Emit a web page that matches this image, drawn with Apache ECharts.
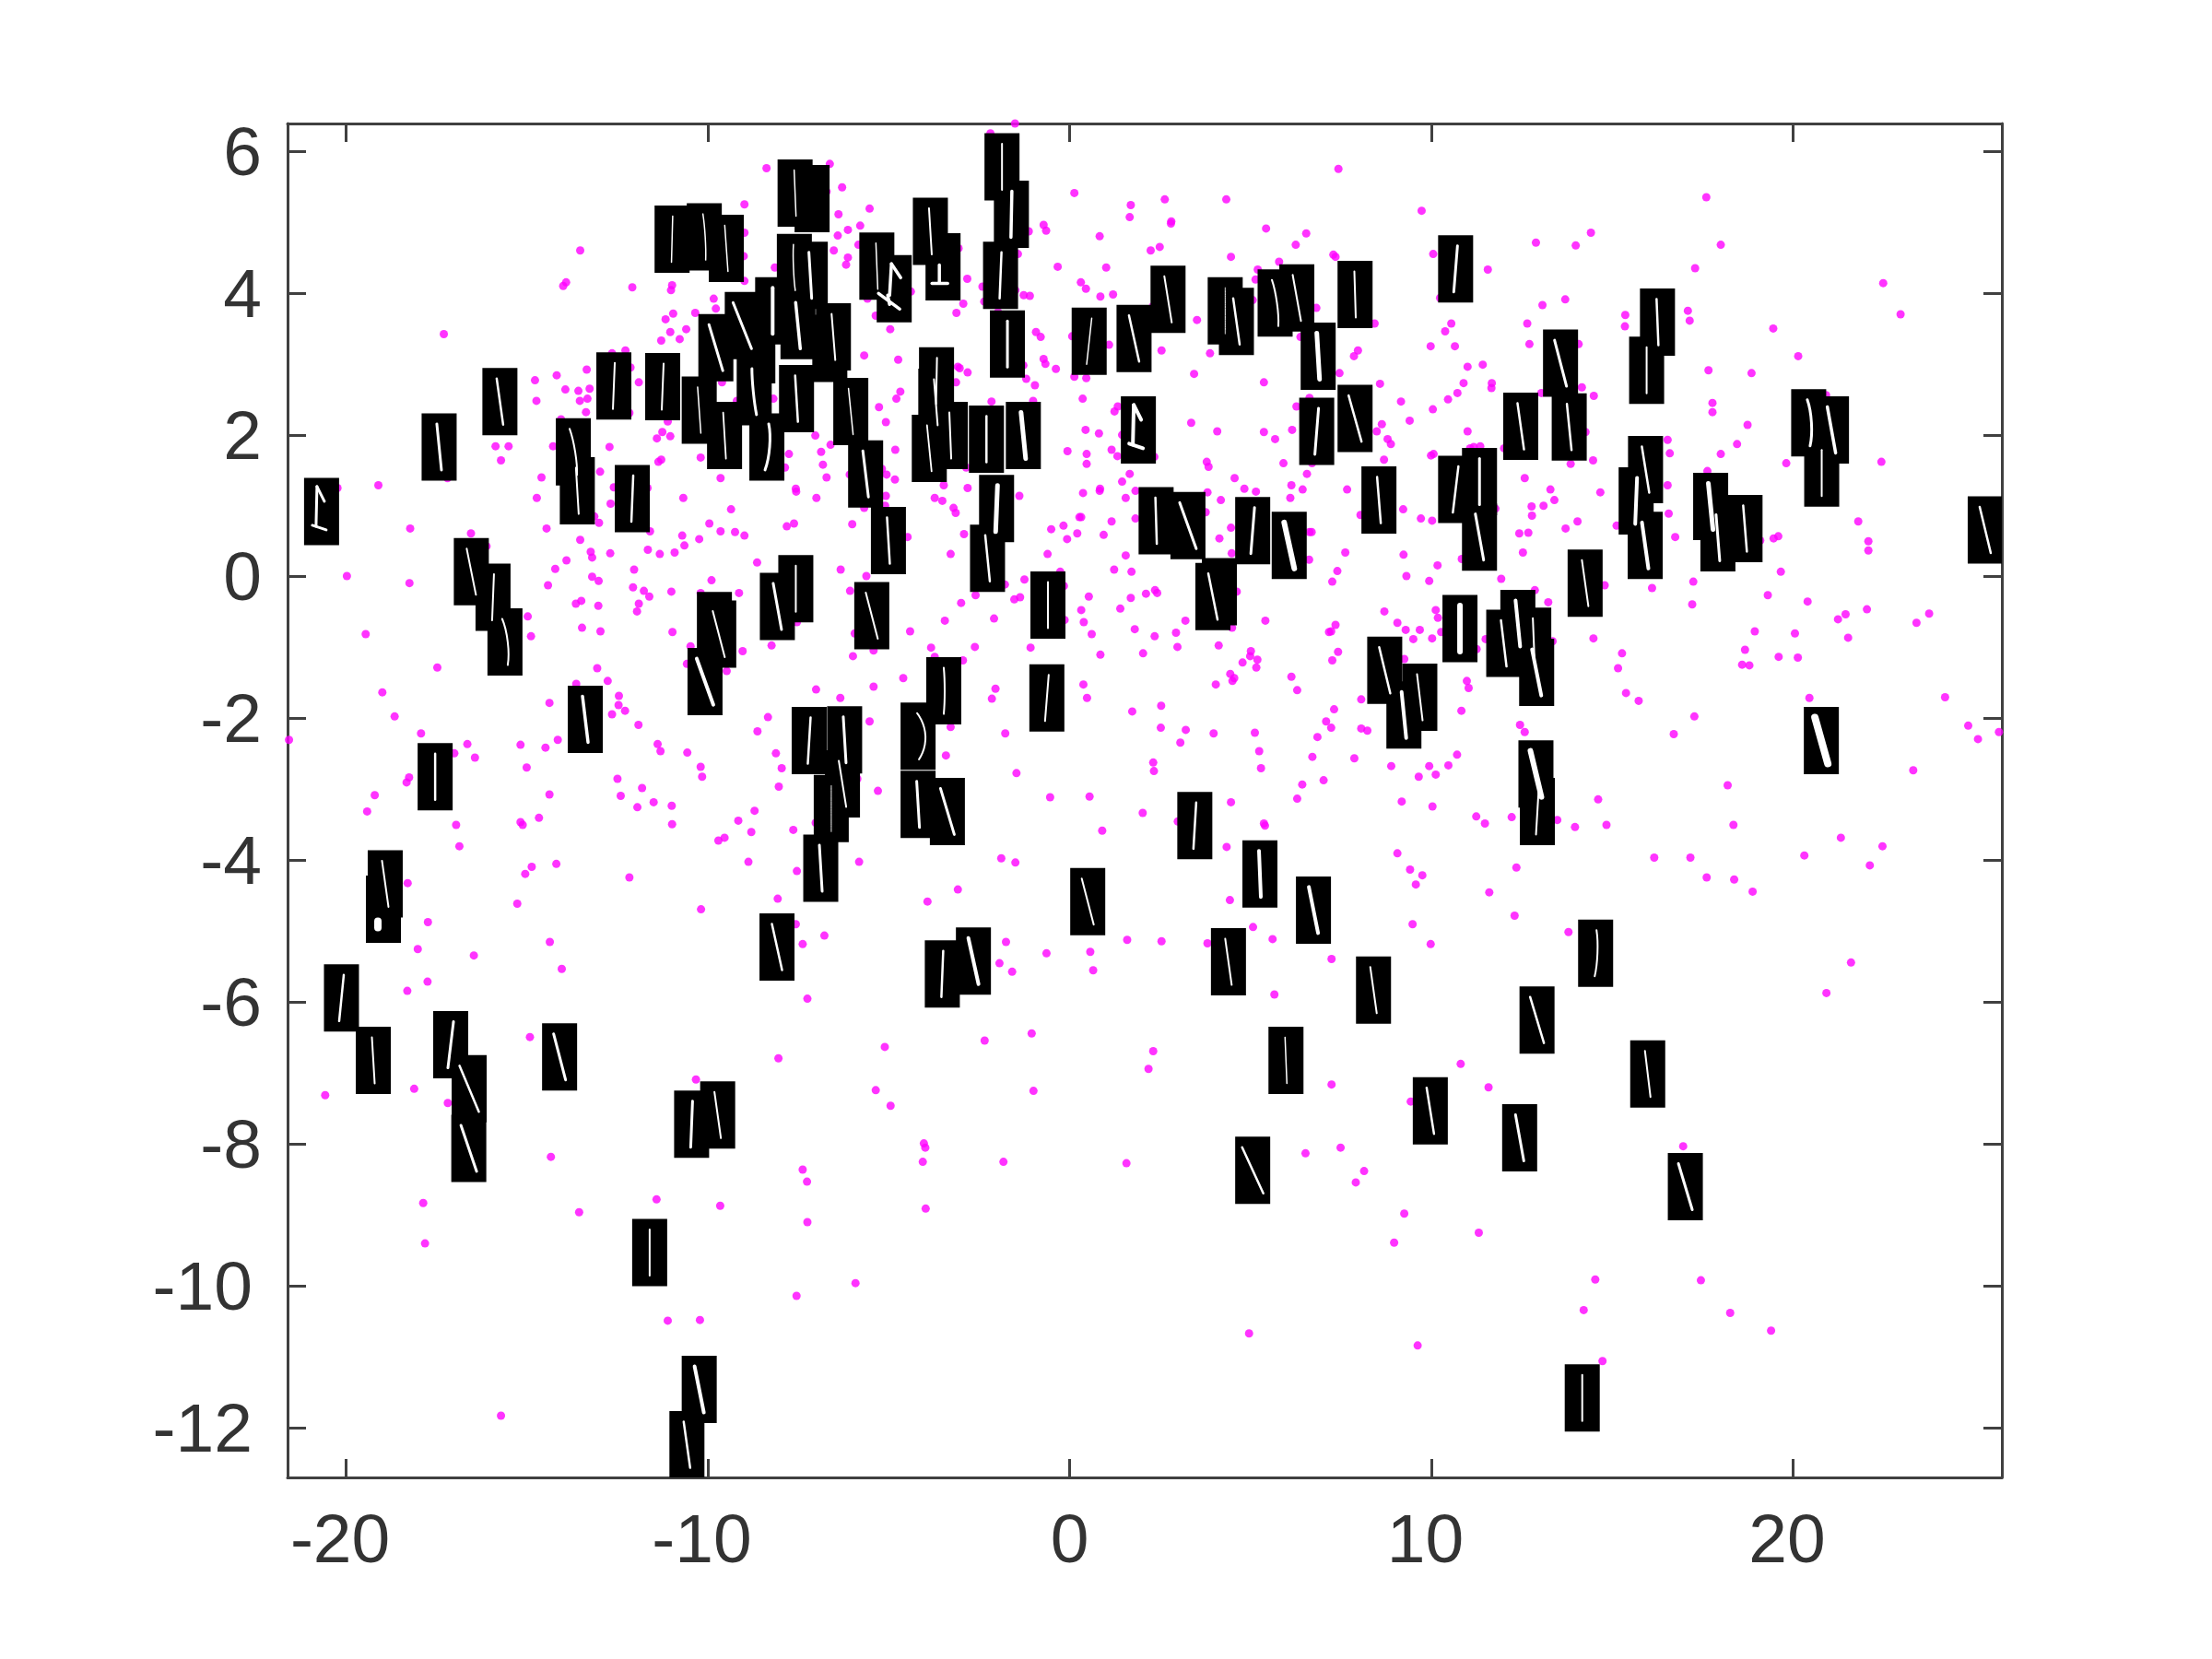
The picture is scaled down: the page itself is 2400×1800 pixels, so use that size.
<!DOCTYPE html>
<html><head><meta charset="utf-8">
<script src="https://cdn.jsdelivr.net/npm/echarts@6/dist/echarts.min.js"></script>
<style>html,body{margin:0;padding:0;background:#fff}#c{width:2400px;height:1800px}</style>
</head><body><div id="c"></div>
<script>
const xTicks = [-20,-10,0,10,20];
const yTicks = [-12,-10,-8,-6,-4,-2,0,2,4,6];
const xRange = [-21.62,25.77];
const yRange = [-12.70,6.39];

const dotsFarUpperLeft = [[-13.53,4.60],[-13.92,4.15],[-14.00,4.10],[-12.09,4.08],[-10.99,4.11],[-11.02,4.04],[-9.84,3.92],[-9.78,3.78],[-10.35,3.72],[-10.96,3.71],[-11.17,3.63],[-17.30,3.42],[-10.60,3.49],[-11.04,3.45],[-10.78,3.35],[-11.29,3.33],[-12.28,3.19],[-12.65,3.15],[-13.35,2.92],[-14.18,2.84],[-14.78,2.77],[-12.14,2.95],[-11.91,2.74],[-13.94,2.64],[-13.58,2.62],[-13.27,2.65],[-14.74,2.48],[-13.54,2.48],[-13.33,2.51],[-13.37,2.32],[-12.17,2.31],[-14.06,2.22],[-11.11,2.19],[-11.26,2.04],[-11.41,1.95],[-11.04,1.98],[-15.87,1.84],[-15.51,1.84],[-14.28,1.84],[-12.72,1.83]];
const dotsUpperLeft = [[-1.51,6.39],[-2.19,6.25],[-8.38,5.76],[-6.63,5.82],[-6.29,5.49],[-6.72,5.43],[0.13,5.41],[-5.53,5.19],[-6.39,5.11],[-8.99,5.25],[-5.79,4.95],[-6.13,4.89],[-6.41,4.81],[-0.72,4.96],[-0.65,4.88],[-1.13,4.87],[0.83,4.80],[-8.99,4.85],[-5.84,4.68],[-6.52,4.60],[-6.13,4.50],[-6.18,4.40],[-9.01,4.52],[-8.15,4.36],[-3.07,4.63],[-1.43,4.55],[-0.33,4.37],[1.01,4.36],[-8.99,4.17],[-2.83,4.20],[-2.41,4.09],[-1.50,4.04],[-1.27,3.97],[-1.10,3.96],[0.31,4.15],[0.45,4.06],[0.85,3.95],[-4.39,4.02],[-2.94,3.85],[-3.13,3.72],[-2.36,3.88],[-5.59,3.92],[-5.36,3.68],[-4.96,3.49],[-1.98,3.73],[-0.93,3.45],[-0.80,3.38],[0.07,3.39],[-5.68,3.12],[-4.74,3.06],[-3.09,2.96],[-3.04,2.94],[-2.82,2.88],[-3.14,2.74],[-0.72,3.07],[-0.67,3.00],[-0.38,2.93],[-1.28,2.98],[-1.20,2.79],[-0.96,2.70],[0.13,2.82],[0.46,2.80],[0.36,2.51],[-1.01,2.48],[-2.16,2.47],[-4.68,2.61],[-4.79,2.51],[-5.27,2.39],[-5.08,2.18],[-9.61,2.74],[-8.19,2.51],[-9.20,2.48],[-7.03,1.99],[-6.61,1.86],[-6.87,1.76],[-7.76,1.73],[0.44,2.07],[0.81,2.02],[-0.06,1.77],[0.47,1.73],[0.47,1.59],[-4.82,1.79],[-10.20,1.68],[-11.29,1.65],[-11.37,1.62],[-9.65,1.39],[-7.87,1.54],[-6.82,1.58],[-6.72,1.40],[-5.19,1.52],[-5.06,1.44],[-4.83,1.37],[-6.08,1.44],[-3.48,1.29],[-2.82,1.25],[-2.86,1.54],[-7.57,1.24],[0.84,1.24]];
const dotsMiddleLeft = [[-15.72,1.64],[-14.60,1.40],[-12.98,1.48],[-17.20,1.39],[-20.24,1.25],[-19.11,1.29],[-14.73,1.11],[-12.60,1.26],[-11.67,1.25],[-10.68,1.11],[-12.69,1.03],[-9.96,0.75],[-13.14,0.85],[-13.01,0.76],[-18.23,0.68],[-14.46,0.68],[-11.60,0.64],[-16.55,0.61],[-10.71,0.58],[-10.24,0.53],[-13.53,0.52],[-16.12,0.43],[-10.65,0.44],[-11.66,0.38],[-11.33,0.32],[-10.92,0.34],[-12.70,0.33],[-13.24,0.35],[-13.20,0.27],[-13.91,0.23],[-14.22,0.11],[-12.04,0.10],[-19.98,0.01],[-18.25,-0.09],[-13.20,0.00],[-13.02,-0.06],[-14.42,-0.12],[-9.90,-0.05],[-12.07,-0.15],[-11.77,-0.20],[-11.62,-0.28],[-11.01,-0.21],[-10.20,-0.23],[-13.50,-0.34],[-13.65,-0.38],[-13.03,-0.41],[-11.91,-0.38],[-11.96,-0.49],[-14.98,-0.56],[-19.46,-0.81],[-14.89,-0.84],[-13.48,-0.72],[-12.97,-0.77],[-10.98,-0.78],[-10.48,-0.98],[-10.58,-1.23],[-17.48,-1.28],[-13.06,-1.29],[-12.77,-1.47],[-13.64,-1.51],[-19.00,-1.63],[-14.38,-1.78],[-12.46,-1.68],[-12.47,-1.81],[-12.29,-1.89],[-12.65,-1.94],[-18.66,-1.97],[-11.92,-2.09],[-17.93,-2.21],[-21.58,-2.30],[-16.65,-2.36],[-15.18,-2.37],[-14.49,-2.41],[-14.15,-2.30],[-17.01,-2.49],[-16.44,-2.55],[-11.39,-2.36],[-11.31,-2.46],[-10.57,-2.48],[-10.20,-2.68],[-15.01,-2.69],[-18.26,-2.83],[-18.33,-2.90],[-10.16,-2.82],[-12.50,-2.85],[-19.21,-3.08],[-14.38,-3.07],[-11.82,-2.98],[-12.41,-3.09],[-11.50,-3.18],[-11.95,-3.25],[-11.00,-3.23],[-19.42,-3.31]];
const dotsMiddleCentre = [[1.16,1.79],[1.32,1.70],[-7.56,1.20],[-7.00,1.11],[-9.36,0.95],[-9.65,0.64],[-9.25,0.63],[-8.99,0.58],[-7.82,0.71],[-7.62,0.75],[-6.01,0.74],[-5.68,0.97],[-5.10,1.00],[-5.08,1.14],[-3.73,1.11],[-3.52,1.07],[-3.21,0.97],[-3.15,0.90],[-1.39,1.14],[0.37,1.18],[0.83,1.21],[1.66,1.45],[1.45,1.34],[1.55,1.11],[1.82,1.21],[1.82,0.82],[0.27,0.84],[0.32,0.84],[1.16,0.78],[-0.51,0.67],[-0.17,0.72],[0.21,0.61],[0.94,0.59],[-0.07,0.53],[-4.48,0.56],[-2.92,0.60],[-3.29,0.32],[-0.61,0.32],[1.55,0.30],[-8.64,0.20],[-6.33,0.10],[-5.62,0.01],[1.23,0.10],[1.71,0.07],[-0.26,0.07],[-9.14,-0.23],[-6.07,-0.20],[-1.79,-0.11],[-1.25,-0.04],[-2.60,-0.26],[-1.53,-0.32],[-1.37,-0.29],[-3.00,-0.37],[-0.16,-0.13],[0.53,-0.28],[1.69,-0.30],[0.32,-0.47],[1.40,-0.45],[-3.45,-0.62],[-2.09,-0.59],[-0.14,-0.61],[0.39,-0.64],[-4.41,-0.77],[0.61,-0.81],[1.80,-0.74],[-7.54,-0.64],[-5.94,-0.80],[-8.24,-0.97],[-9.04,-1.05],[-5.42,-1.04],[-5.99,-1.12],[-3.83,-1.00],[-2.62,-0.99],[-1.08,-1.00],[-3.73,-1.13],[-2.95,-1.18],[0.85,-1.10],[-9.48,-1.33],[-4.60,-1.43],[-5.42,-1.55],[-7.01,-1.59],[-6.34,-1.71],[-2.05,-1.58],[-2.15,-1.72],[0.38,-1.52],[0.48,-1.71],[1.73,-1.90],[-8.34,-1.98],[-8.63,-2.18],[-5.53,-2.04],[-3.29,-2.12],[-1.78,-2.21],[-8.12,-2.49],[-3.42,-2.52],[-7.96,-2.70],[-1.47,-2.77],[-8.04,-2.96],[-5.87,-2.85],[-5.30,-3.02],[-0.54,-3.11],[0.55,-3.10],[-8.71,-3.30]];
const dotsUpperCentre = [[7.43,5.75],[1.69,5.24],[2.63,5.32],[4.33,5.32],[1.66,5.07],[2.81,5.01],[2.80,4.98],[9.73,5.16],[5.43,4.91],[6.54,4.84],[6.25,4.68],[2.24,4.60],[2.49,4.65],[4.46,4.51],[7.29,4.54],[7.35,4.51],[5.79,4.44],[5.20,4.33],[5.14,4.19],[10.05,4.55],[11.56,4.33],[1.20,3.98],[2.30,3.81],[5.06,3.90],[10.24,3.93],[6.82,3.79],[3.52,3.62],[8.43,3.57],[10.55,3.57],[10.38,3.46],[12.65,3.57],[1.09,3.27],[2.54,3.19],[3.88,3.15],[6.38,3.38],[7.97,3.19],[7.86,3.11],[9.98,3.25],[10.65,3.25],[12.71,3.28],[11.00,2.96],[11.42,2.99],[3.44,2.86],[7.46,2.87],[5.37,2.74],[8.58,2.72],[10.89,2.73],[11.67,2.73],[11.66,2.66],[10.72,2.59],[10.46,2.50],[1.33,2.40],[1.24,2.33],[6.63,2.52],[6.27,2.40],[9.16,2.47],[10.04,2.36],[3.36,2.17],[9.40,2.20],[1.45,2.00],[4.08,2.05],[5.37,2.04],[6.15,2.07],[5.68,1.94],[8.63,2.15],[8.49,2.05],[8.79,1.94],[8.88,1.87],[11.00,2.05],[2.34,1.69],[3.79,1.62],[3.84,1.55],[5.91,1.60],[8.69,1.65],[9.99,1.71],[10.06,1.73],[11.07,1.81],[11.17,1.83],[11.35,1.84],[12.01,1.81],[6.70,1.60],[4.56,1.39],[6.56,1.45],[6.13,1.29],[4.83,1.24],[5.15,1.20],[6.44,1.23],[7.67,1.23],[12.58,1.39],[3.81,1.19]];
const dotsMiddleRight = [[4.18,1.08],[6.10,1.11],[3.76,0.91],[8.04,0.87],[9.22,0.95],[9.71,0.82],[10.02,0.79],[11.77,0.96],[12.77,0.99],[13.10,1.00],[13.40,1.08],[12.78,0.86],[13.29,1.23],[4.46,0.69],[4.14,0.54],[4.48,0.33],[6.63,0.63],[6.69,0.63],[6.62,0.24],[7.62,0.34],[7.40,0.08],[7.26,-0.07],[9.23,0.31],[10.17,0.16],[9.31,0.01],[9.94,-0.06],[10.84,0.25],[12.43,0.61],[12.68,0.62],[12.53,0.34],[11.93,-0.03],[12.86,-0.19],[13.23,-0.36],[2.11,-0.24],[2.36,-0.19],[2.42,-0.23],[4.62,-0.21],[3.20,-0.62],[5.41,-0.62],[4.49,-0.72],[2.35,-0.84],[2.94,-0.79],[2.98,-0.99],[2.03,-1.08],[4.12,-0.97],[7.35,-0.68],[7.17,-0.78],[7.23,-0.77],[8.70,-0.49],[9.06,-0.65],[9.29,-0.75],[9.68,-0.75],[10.12,-0.47],[10.18,-0.58],[10.27,-0.78],[9.50,-0.88],[10.02,-0.87],[11.50,-0.88],[11.25,-1.02],[13.35,-0.91],[9.25,-1.16],[5.01,-1.05],[4.99,-1.12],[5.19,-1.17],[4.78,-1.21],[5.16,-1.28],[7.42,-1.06],[7.26,-1.18],[4.44,-1.37],[4.55,-1.43],[4.50,-1.47],[4.04,-1.52],[6.13,-1.41],[6.29,-1.60],[10.98,-1.47],[11.03,-1.57],[2.53,-1.82],[8.06,-1.73],[7.31,-1.87],[10.83,-1.89],[7.09,-2.04],[7.23,-2.13],[8.06,-2.14],[8.23,-2.17],[2.52,-2.13],[3.21,-2.16],[3.98,-2.21],[5.12,-2.20],[3.06,-2.34],[6.85,-2.26],[12.45,-2.09],[12.58,-2.19],[5.24,-2.46],[6.71,-2.54],[7.87,-2.56],[8.89,-2.67],[9.94,-2.67],[10.47,-2.66],[10.71,-2.51],[9.65,-2.82],[10.12,-2.79],[2.31,-2.62],[2.33,-2.74],[5.29,-2.70],[7.02,-2.87],[6.43,-2.93],[6.29,-3.13],[4.46,-3.18],[9.18,-3.17],[10.03,-3.24],[2.02,-3.33],[2.99,-3.45],[5.37,-3.48],[5.40,-3.51],[11.24,-3.38],[11.48,-3.48],[12.22,-3.39],[13.48,-3.43],[4.34,-3.81],[9.06,-3.90]];
const dotsUpperRight = [[17.60,5.35],[14.41,4.85],[12.89,4.71],[13.99,4.67],[18.00,4.68],[17.29,4.35],[22.49,4.14],[22.97,3.70],[13.07,3.83],[13.70,3.91],[15.36,3.69],[15.35,3.53],[17.09,3.75],[17.14,3.61],[19.45,3.50],[14.07,3.28],[20.14,3.11],[17.66,2.91],[18.85,2.87],[14.16,2.67],[14.49,2.55],[13.04,2.59],[17.77,2.45],[17.77,2.32],[18.74,2.14],[14.26,2.04],[16.53,1.93],[18.45,1.87],[16.59,1.74],[18.00,1.73],[14.47,1.64],[13.85,1.59],[19.81,1.60],[22.44,1.62],[17.63,1.49],[16.53,1.29],[14.67,1.19],[20.91,2.56]];
const dotsFarRight = [[14.04,0.78],[13.71,0.68],[15.12,0.72],[16.56,0.89],[16.74,0.56],[21.80,0.78],[22.08,0.50],[22.08,0.37],[19.46,0.54],[19.59,0.57],[19.09,0.51],[19.66,0.07],[14.79,-0.12],[16.10,-0.16],[17.24,-0.07],[17.21,-0.39],[19.30,-0.26],[20.40,-0.35],[22.04,-0.46],[21.45,-0.53],[21.24,-0.60],[23.41,-0.65],[23.76,-0.52],[18.94,-0.77],[20.05,-0.80],[21.52,-0.86],[14.48,-0.87],[15.27,-1.08],[18.67,-1.03],[15.16,-1.29],[18.59,-1.24],[18.79,-1.25],[19.60,-1.13],[20.13,-1.14],[15.38,-1.64],[15.73,-1.75],[20.45,-1.71],[24.20,-1.70],[17.27,-1.97],[16.70,-2.22],[24.84,-2.10],[25.11,-2.29],[25.69,-2.19],[23.32,-2.73],[18.19,-2.94],[14.61,-3.14],[13.97,-3.53],[14.84,-3.50],[18.35,-3.50],[21.32,-3.68],[22.47,-3.80],[20.31,-3.93],[17.16,-3.96],[16.16,-3.96]];
const dotsLowerLeft = [[-16.96,-3.50],[-16.87,-3.80],[-15.18,-3.46],[-15.12,-3.50],[-14.67,-3.40],[-10.99,-3.49],[-9.16,-3.44],[-9.71,-3.72],[-9.54,-3.68],[-8.80,-3.60],[-7.64,-3.57],[-7.02,-3.47],[-18.30,-4.32],[-14.87,-4.09],[-15.05,-4.19],[-14.19,-4.05],[-12.17,-4.24],[-8.88,-4.02],[-7.54,-4.15],[-5.82,-4.02],[-15.27,-4.61],[-10.19,-4.69],[-8.07,-4.54],[-17.74,-4.87],[-7.57,-4.90],[-6.78,-5.06],[-7.38,-5.18],[-14.37,-5.15],[-18.02,-5.25],[-16.47,-5.34],[-14.04,-5.53],[-17.75,-5.71],[-18.31,-5.84],[-7.25,-5.95],[-14.92,-6.49],[-8.05,-6.79],[-10.33,-7.09],[-18.12,-7.22],[-20.58,-7.31],[-17.19,-7.42],[-14.34,-8.18],[-7.38,-8.36],[-7.26,-8.53],[-17.87,-8.83],[-13.56,-8.96],[-11.42,-8.78],[-9.66,-8.87],[-7.25,-9.10],[-17.82,-9.40],[-7.55,-10.14],[-5.92,-9.96],[-11.11,-10.49],[-10.22,-10.48],[-15.72,-11.83]];
const dotsLowerCentre = [[0.90,-3.58],[-1.89,-3.97],[-1.50,-4.03],[-3.09,-4.41],[-3.93,-4.58],[4.43,-4.56],[9.41,-4.13],[9.75,-4.21],[9.57,-4.34],[9.48,-4.90],[9.98,-5.18],[-1.76,-5.15],[-1.94,-5.45],[-1.59,-5.57],[-0.64,-5.31],[0.57,-5.29],[0.65,-5.55],[1.59,-5.12],[2.54,-5.14],[3.81,-5.17],[5.07,-4.94],[5.61,-5.11],[5.66,-5.89],[7.24,-5.39],[-1.05,-6.44],[-2.35,-6.54],[-5.11,-6.63],[2.31,-6.69],[2.18,-6.94],[-5.36,-7.24],[-4.95,-7.46],[-1.00,-7.25],[7.24,-7.16],[9.43,-7.40],[-4.03,-7.99],[-3.99,-8.05],[-4.06,-8.25],[-1.83,-8.25],[1.57,-8.27],[-3.98,-8.91],[6.52,-8.13],[7.49,-8.05],[8.14,-8.38],[7.91,-8.54],[9.25,-8.98],[8.97,-9.39],[4.96,-10.67],[9.62,-10.84]];
const dotsLowerRight = [[12.35,-4.10],[11.60,-4.45],[12.30,-4.78],[13.79,-5.01],[17.61,-4.24],[18.37,-4.27],[18.88,-4.44],[22.12,-4.07],[21.60,-5.44],[20.92,-5.87],[10.81,-6.87],[11.58,-7.20],[16.96,-8.03],[11.31,-9.25],[14.53,-9.91],[17.45,-9.92],[14.21,-10.34],[18.26,-10.38],[19.39,-10.63],[14.73,-11.06]];

// digit images: x, y, then the digit's drawn stroke: slant, bow, weight, kind
const imagesUpperLeft = [[-10.99,4.76,-1.3,0,1.5,0],[-10.10,4.79,3,1,1.5,0],[-9.49,4.63,3.5,0,1.5,0],[-7.59,5.41,2,0,1.5,0],[-7.12,5.33,0,0,0,0],[-7.61,4.36,2,-1,1.5,0],[-7.17,4.25,3,0,3,0],[-8.21,3.75,0,0,4,0],[-9.05,3.54,20,0,3,0],[-9.78,3.23,15,0,3,0],[-7.51,3.54,5,0,3.5,0],[-6.53,3.38,4,0,2,0],[-6.63,3.22,0,0,0,0],[-8.62,3.20,0,0,0,0],[-11.25,2.68,-2,0,2,0],[-10.24,2.35,3.5,0,1.5,0],[-8.72,2.61,5,-1,3,0],[-7.55,2.51,3,0,2.5,0],[-9.54,1.99,3,0,1.8,0],[-8.37,1.83,-4,3,3,0],[-6.05,2.33,5,0,1.5,0],[-5.64,1.45,6,0,3,0],[-5.33,4.38,2,0,1.5,0],[-4.85,4.06,0,0,3.5,3],[-3.85,4.87,3,0,2,0],[-3.50,4.37,0,0,3.5,4],[-1.87,5.78,0,0,2,0],[-1.61,5.11,-1,0,3.5,0],[-1.91,4.25,-2,0,2.5,0],[-1.72,3.28,0,0,3,0],[0.54,3.32,-5.5,0,1.5,0],[-3.68,2.76,-1,0,2,0],[-3.70,2.46,4,0,2,0],[-3.88,1.81,5,0,1.8,0],[-3.30,1.99,2,0,2,0],[-2.30,1.94,0,0,2.5,0],[-1.28,1.99,5,0,5,0],[-2.02,0.96,-2,0,5,0]];
const imagesMiddleLeft = [[-2.27,0.26,5,0,2.5,0],[-5.01,0.51,3,0,2.5,0],[-0.60,-0.40,0,0,2,0],[-8.08,-0.42,9,0,3,0],[-7.57,-0.17,0,0,2,0],[-5.47,-0.55,13,0,2,0],[-9.82,-0.69,0,0,0,0],[-9.70,-0.81,13,0,2,0],[-10.08,-1.48,18,0,4,0],[-3.48,-1.61,0,1,2,0],[-0.63,-1.71,-4,0,2,0],[-4.19,-2.25,2,8,2,0],[-7.20,-2.31,-3,0,2.5,0],[-6.22,-2.30,3,0,3,0],[-6.28,-2.92,8,0,2,0],[-6.59,-3.27,0,0,1,0],[-4.19,-3.21,3,0,3,0],[-3.38,-3.31,15,0,3,0],[-17.43,1.83,5,0,3,0],[-13.72,1.76,8,2,2,0],[-13.61,1.21,3,0,2,0],[-12.09,1.10,-2,0,2.5,0],[-16.54,0.07,10,0,2,0],[-15.94,-0.29,-2,0,2,0],[-15.61,-0.92,6,3,2,0],[-13.39,-2.01,6,0,3.5,0],[-17.54,-2.82,0,0,2.5,0],[-20.68,0.92,0,0,3,1],[-15.75,2.47,7,0,2.5,0],[-12.60,2.69,-2,0,2,0]];
const imagesUpperRight = [[1.78,3.36,11,0,2.5,0],[2.72,3.91,8,0,2,0],[4.30,3.75,0,0,1,0],[4.61,3.60,7,0,2.5,0],[5.68,3.86,7,2,2,0],[6.28,3.93,9,0,2,0],[7.89,3.98,1.5,0,2,0],[6.87,3.11,3,0,5,0],[6.83,2.05,-4,0,3,0],[7.89,2.23,14,0,2.5,0],[10.67,4.34,-4,0,3,0],[1.90,2.07,0,0,4,1],[12.47,2.12,7,0,2.5,0],[8.55,1.08,4,0,2.5,0],[10.67,1.23,-6,0,2.5,0],[11.33,1.34,0,0,3,0],[2.39,0.79,1.5,0,2.5,0],[3.27,0.72,18,0,3,0],[5.06,0.65,-4,0,3,0],[6.07,0.44,11,0,6,0],[4.14,-0.21,0,0,0,0],[3.96,-0.28,10,0,2.5,0],[11.33,0.56,9,0,3,0],[10.79,-0.73,0,0,6,0],[12.39,-0.66,5,0,4,0],[12.00,-0.94,6,0,2.5,0],[12.83,-0.91,2,0,2,0],[12.91,-1.35,10,0,4,0],[8.71,-1.32,12,0,2.5,0],[9.68,-1.70,6,0,2,0],[9.24,-1.95,5,0,4,0],[12.89,-2.78,12,0,6,0],[12.93,-3.31,-3,0,2,0],[3.46,-3.51,-3,0,2.5,0],[5.26,-4.19,2,0,4,0]];
const imagesFarRight = [[13.57,3.01,13,0,3,0],[13.81,2.11,5,0,2.5,0],[16.25,3.59,2,0,2.5,0],[15.95,2.91,0,0,2,0],[15.92,1.51,8,0,2.5,0],[15.66,1.07,-2,0,4,0],[17.72,0.99,5,0,5,0],[15.91,0.44,7,0,4,0],[17.92,0.55,4,0,3,0],[18.67,0.68,4,0,2.5,0],[25.31,0.66,12,0,2.5,0],[14.25,-0.09,7,0,2,0],[20.43,2.17,3,3,3,0],[21.06,2.07,9,0,3.5,0],[20.79,1.46,0,0,2,0],[20.78,-2.31,14,0,8,0]];
const imagesLowerLeft = [[-18.92,-4.33,7,0,2,0],[-18.97,-4.69,0,0,8,5],[-20.13,-5.94,-5,0,2.5,0],[-19.25,-6.82,3,0,2,0],[-17.11,-6.60,-6,0,3,0],[-16.60,-7.22,21,0,2.5,0],[-16.61,-8.06,17,0,3,0],[-14.10,-6.77,13,0,3,0],[-11.61,-9.53,0,0,2,0],[-10.45,-7.72,-2,0,3,0],[-9.73,-7.59,7,0,2,0],[-10.24,-11.46,10,0,4,0],[-10.58,-12.24,7,0,2.5,0],[-8.09,-5.22,11,0,2.5,0],[-6.88,-4.11,3,0,3,0]];
const imagesLowerRight = [[-3.52,-5.60,-2,0,2.5,0],[-2.66,-5.42,11,0,4,0],[0.50,-4.58,13,0,2,0],[6.74,-4.70,10,0,4,0],[4.39,-5.43,7,0,2,0],[8.40,-5.83,7,0,2,0],[5.98,-6.82,2,0,1.5,0],[5.06,-8.37,23,0,2.5,0],[9.97,-7.53,8,0,2.5,0],[14.54,-5.31,-2,2,2,0],[12.92,-6.25,15,0,2.5,0],[15.98,-7.01,6,0,2,0],[12.44,-7.91,9,0,3,0],[17.02,-8.60,15,0,3,0],[14.17,-11.58,0,0,2,0]];

const allDots = [].concat(dotsFarUpperLeft,dotsUpperLeft,dotsMiddleLeft,dotsMiddleCentre,dotsUpperCentre,dotsMiddleRight,dotsUpperRight,dotsFarRight,dotsLowerLeft,dotsLowerCentre,dotsLowerRight);
const allImages = [].concat(imagesUpperLeft,imagesMiddleLeft,imagesUpperRight,imagesFarRight,imagesLowerLeft,imagesLowerRight);

const IMG_W = 38, IMG_H = 73, STROKE_H = 50;
const LINE = '#404040', TEXT = '#333333', TICK = 20, FONT = 75;

function renderTile(params, api) {
  const c = api.coord([api.value(0), api.value(1)]);
  return { type:'rect', shape:{x:c[0]-IMG_W/2, y:c[1]-IMG_H/2, width:IMG_W, height:IMG_H}, style:{fill:'#000'} };
}
function line(c, pts, w, smooth) {
  return { type:'polyline', shape:{points:pts.map(p=>[c[0]+p[0],c[1]+p[1]]), smooth:smooth||0},
           style:{stroke:'#fff', lineWidth:w, fill:null, lineCap:'round', lineJoin:'round'} };
}
function renderStroke(params, api) {
  const c = api.coord([api.value(0), api.value(1)]);
  const slant = api.value(2), bow = api.value(3), w = api.value(4), kind = api.value(5);
  if (!w) return { type:'group', children:[] };
  const h = STROKE_H/2;
  let kids;
  if (kind === 1) kids = [line(c,[[-5,-27],[-6,16]],w), line(c,[[-5,-27],[3,-11]],w), line(c,[[-10,15],[5,20]],w)];
  else if (kind === 3) kids = [line(c,[[-3,-27],[-5,7]],w), line(c,[[-3,-27],[7,-12]],w), line(c,[[-17,5],[6,22]],w), line(c,[[-7,7],[-5,17]],w)];
  else if (kind === 4) kids = [line(c,[[-4,-2],[-4,17]],w), line(c,[[-12,18],[5,18]],w)];
  else if (kind === 5) kids = [line(c,[[-6,13],[-6,20]],w)];
  else kids = [line(c,[[-slant/2,-h],[bow,0],[slant/2,h]],w,0.6)];
  return { type:'group', children:kids };
}
function ax(extra){ return Object.assign({
  type:'value', splitLine:{show:false}, axisLine:{show:true,onZero:false,lineStyle:{color:LINE,width:3}}
}, extra); }
const tick = vals => ({show:true,inside:true,length:TICK,customValues:vals,lineStyle:{color:LINE,width:3}});
const textStyle = {color:TEXT,fontSize:FONT,fontFamily:'Liberation Sans'};
const xLabel = {show:true,customValues:xTicks,margin:34,hideOverlap:false,...textStyle,
  formatter:v=>v===0?'{n|0}':'{w|'+v+'}',
  rich:{n:{...textStyle},w:{...textStyle,padding:[0,13,0,0]}}};
const yLabel = {show:true,customValues:yTicks,margin:28,hideOverlap:false,...textStyle,
  formatter:v=>Math.abs(v)>=10?'{w|'+v+'}':'{n|'+v+'}',
  rich:{n:{...textStyle,padding:[10,0,0,0]},w:{...textStyle,padding:[10,10,0,0]}}};

const chart = echarts.init(document.getElementById('c'),null,{renderer:'canvas'});
chart.setOption({
  animation:false, backgroundColor:'#fff',
  grid:{left:312,right:228,top:134,bottom:197,containLabel:false},
  xAxis:[
    ax({position:'bottom',min:xRange[0],max:xRange[1],axisTick:tick(xTicks),axisLabel:xLabel}),
    ax({position:'top',min:xRange[0],max:xRange[1],axisTick:tick(xTicks),axisLabel:{show:false}})
  ],
  yAxis:[
    ax({position:'left',min:yRange[0],max:yRange[1],axisTick:tick(yTicks),axisLabel:yLabel}),
    ax({position:'right',min:yRange[0],max:yRange[1],axisTick:tick(yTicks),axisLabel:{show:false}})
  ],
  series:[
    {type:'scatter',data:allDots,symbol:'circle',symbolSize:9,itemStyle:{color:'#ff00ff'},clip:false,silent:true,z:2},
    {type:'custom',data:allImages,renderItem:renderTile,clip:true,silent:true,z:3,encode:{x:0,y:1}},
    {type:'custom',data:allImages,renderItem:renderStroke,clip:true,silent:true,z:4,encode:{x:0,y:1}}
  ]
});
</script></body></html>
